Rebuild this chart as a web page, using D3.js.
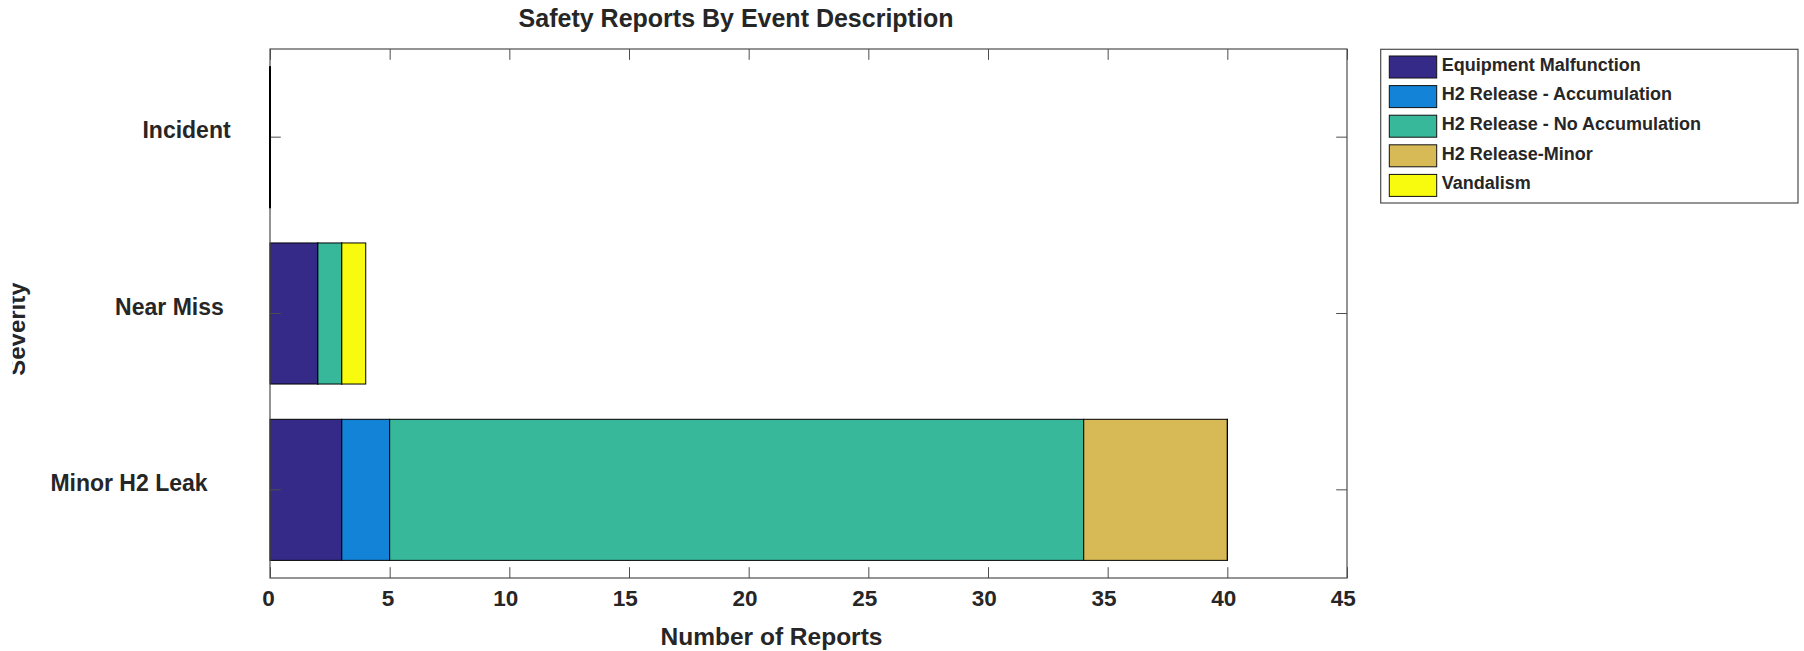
<!DOCTYPE html>
<html>
<head>
<meta charset="utf-8">
<script src="https://cdn.jsdelivr.net/npm/d3@7/dist/d3.min.js"></script>
<style>
  html, body { margin: 0; padding: 0; background: #fff; }
  svg { display: block; }
  text { font-family: "Liberation Sans", Arial, Helvetica, sans-serif; font-weight: bold; fill: #262626; }
</style>
</head>
<body>
<svg id="chart" width="1804" height="651"></svg>
<script>
// ---- data ----
const categories = ["Incident", "Near Miss", "Minor H2 Leak"];
const seriesNames = ["Equipment Malfunction", "H2 Release - Accumulation", "H2 Release - No Accumulation", "H2 Release-Minor", "Vandalism"];
const equipmentMalfunction = [0, 2, 3];
const h2Accumulation = [0, 0, 2];
const h2NoAccumulation = [0, 1, 29];
const h2Minor = [0, 0, 6];
const vandalism = [0, 1, 0];
const seriesColors = ["#352A87", "#1283D6", "#38B89A", "#D7BA56", "#F9FB0E"];
const xTicks = [0, 5, 10, 15, 20, 25, 30, 35, 40, 45];
const titleText = "Safety Reports By Event Description";
const xLabelText = "Number of Reports";
const yLabelText = "Severity";

const seriesValues = [equipmentMalfunction, h2Accumulation, h2NoAccumulation, h2Minor, vandalism];

// ---- layout ----
const svg = d3.select("#chart");
const plot = { left: 270, right: 1347, top: 49, bottom: 578 };
const tickLen = 10.8;

const x = d3.scaleLinear().domain([0, 45]).range([plot.left, plot.right]);
const y = d3.scaleBand().domain(categories).range([plot.top, plot.bottom])
  .paddingInner(0.2).paddingOuter(0.1);

// stacked data
const rows = categories.map((c, i) => {
  const r = { category: c };
  seriesNames.forEach((s, j) => { r[s] = seriesValues[j][i]; });
  return r;
});
const stacked = d3.stack().keys(seriesNames)(rows);

// plot background
svg.append("rect").attr("x", plot.left).attr("y", plot.top)
  .attr("width", plot.right - plot.left).attr("height", plot.bottom - plot.top)
  .attr("fill", "#fff");

// bars (zero-length bars still show their edge line, as in the reference)
const layers = svg.append("g").selectAll("g").data(stacked).join("g")
  .attr("fill", (d, i) => seriesColors[i]);
layers.selectAll("rect").data(d => d).join("rect")
  .attr("x", d => x(d[0]))
  .attr("y", d => y(d.data.category))
  .attr("width", d => Math.max(0.01, x(d[1]) - x(d[0])))
  .attr("height", y.bandwidth())
  .attr("stroke", "#000")
  .attr("stroke-width", 1);

function measure(sel) { return sel.node().getComputedTextLength(); }

// axes
const axisColor = "#4d4d4d";
const gBottom = svg.append("g").attr("transform", `translate(0,${plot.bottom})`)
  .call(d3.axisBottom(x).tickValues(xTicks).tickSize(-tickLen).tickPadding(0));
const gTop = svg.append("g").attr("transform", `translate(0,${plot.top})`)
  .call(d3.axisTop(x).tickValues(xTicks).tickSize(-tickLen).tickFormat(""));
const gLeft = svg.append("g").attr("transform", `translate(${plot.left},0)`)
  .call(d3.axisLeft(y).tickSize(-tickLen).tickPadding(0));
const gRight = svg.append("g").attr("transform", `translate(${plot.right},0)`)
  .call(d3.axisRight(y).tickSize(-tickLen).tickFormat(""));

[gBottom, gTop, gLeft, gRight].forEach(g => {
  g.select(".domain").remove();
  g.selectAll(".tick line").attr("stroke", axisColor).attr("stroke-width", 1);
});

gBottom.selectAll(".tick text")
  .attr("font-size", "22.5px").attr("fill", "#262626")
  .attr("font-family", null)
  .attr("y", 28).attr("dy", 0)
  .each(function () {
    const w = this.getComputedTextLength();
    d3.select(this).attr("dx", -w / 6);
  });

gLeft.selectAll(".tick text")
  .attr("font-size", "23px").attr("fill", "#262626")
  .attr("font-family", null)
  .attr("dy", 0).attr("y", 1)
  .attr("text-anchor", "end")
  .each(function () {
    const w = this.getComputedTextLength();
    d3.select(this).attr("x", -10 - w / 3);
  });

// box
svg.append("rect").attr("x", plot.left).attr("y", plot.top)
  .attr("width", plot.right - plot.left).attr("height", plot.bottom - plot.top)
  .attr("fill", "none").attr("stroke", axisColor).attr("stroke-width", 1.2);

// redraw the zero-length bar edges over the box line
svg.append("g").selectAll("line")
  .data(stacked.flatMap(s => s).filter(d => d[1] === d[0] && d[0] === 0))
  .join("line")
  .attr("x1", d => x(d[0])).attr("x2", d => x(d[0]))
  .attr("y1", d => y(d.data.category)).attr("y2", d => y(d.data.category) + y.bandwidth())
  .attr("stroke", "#000").attr("stroke-width", 1.2);

// title
const cx = (plot.left + plot.right) / 2;
const title = svg.append("text").attr("x", cx).attr("y", 27)
  .attr("text-anchor", "middle").attr("font-size", "25px").attr("fill", "#111")
  .text(titleText);
title.attr("dx", -measure(title) / 6);

// x label
const xl = svg.append("text").attr("x", cx).attr("y", 645)
  .attr("text-anchor", "middle").attr("font-size", "24.5px")
  .text(xLabelText);
xl.attr("dx", -measure(xl) / 6);

// y label (partly cut off at the left, as in the reference)
svg.append("clipPath").attr("id", "ylabClip")
  .append("rect").attr("x", 12.7).attr("y", 0).attr("width", 60).attr("height", 651);
const cy = (plot.top + plot.bottom) / 2;
const yl = svg.append("g").attr("clip-path", "url(#ylabClip)")
  .append("text").attr("font-size", "24px").attr("text-anchor", "start")
  .text(yLabelText);
const yw = measure(yl);
yl.attr("transform", `translate(24.5,${cy + 2 * yw / 3}) rotate(-90)`);

// legend
const leg = { x: 1380.7, y: 49.3, w: 417.3, h: 153.7, swX: 8.6, swY: 6.7, swW: 47.4, swH: 22, step: 29.6, textX: 61 };
const gLeg = svg.append("g").attr("transform", `translate(${leg.x},${leg.y})`);
gLeg.append("rect").attr("width", leg.w).attr("height", leg.h)
  .attr("fill", "#fff").attr("stroke", axisColor).attr("stroke-width", 1.2);
const items = gLeg.selectAll("g.item").data(seriesNames).join("g").attr("class", "item")
  .attr("transform", (d, i) => `translate(0,${leg.swY + i * leg.step})`);
items.append("rect").attr("x", leg.swX).attr("y", 0).attr("width", leg.swW).attr("height", leg.swH)
  .attr("fill", (d, i) => seriesColors[i]).attr("stroke", "#111").attr("stroke-width", 1);
items.append("text").attr("x", leg.textX).attr("y", 14.7)
  .attr("font-size", "18px").attr("fill", "#111")
  .text(d => d);
</script>
</body>
</html>
